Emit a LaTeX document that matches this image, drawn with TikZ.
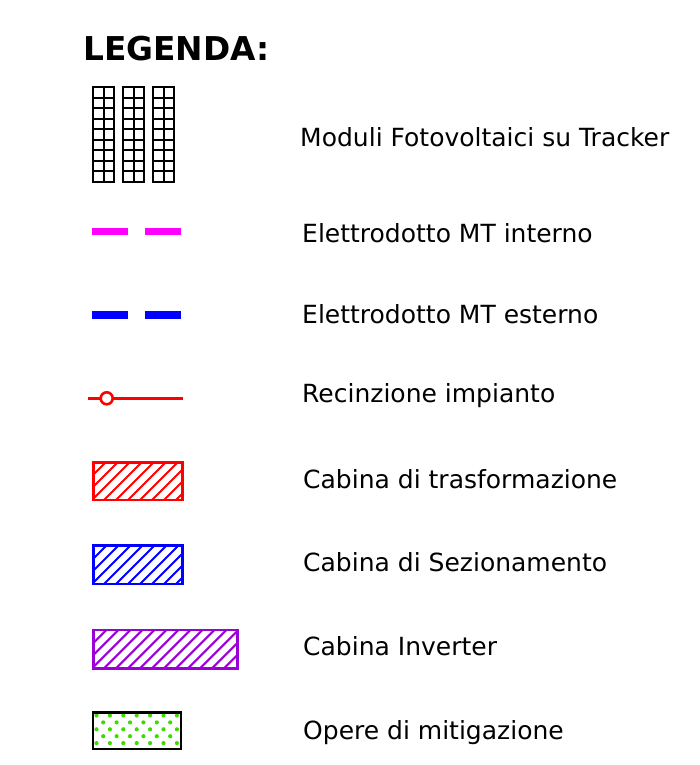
\documentclass[tikz,border=0pt]{standalone}
\usepackage{fontspec}
\setmainfont{DejaVu Sans}
\definecolor{mag}{RGB}{255,0,255}
\definecolor{blu}{RGB}{0,0,255}
\definecolor{rosso}{RGB}{255,0,0}
\definecolor{viola}{RGB}{155,0,215}
\definecolor{verde}{RGB}{60,220,0}
\tikzset{
  lbl/.style={anchor=west, inner sep=0pt, font=\fontsize{25.0}{30}\selectfont},
  cell/.style={draw=black, line width=1.8pt},
  mtline/.style={line width=7.5pt, dash pattern=on 36pt off 17pt},
  hatchbox/.style={line width=2.6pt},
  hatchline/.style={line width=2.1pt},
}
\begin{document}
\begin{tikzpicture}[x=1pt,y=-1pt]
\useasboundingbox (0,0) rectangle (700,765);
% title
\node[anchor=west, inner sep=0pt, font=\bfseries\fontsize{32.8}{39}\selectfont] (title) at (83,49) {LEGENDA:};
% modules
\foreach \cx in {93.3,123.3,153.3}{
  \foreach \r in {1,...,8}{
    \draw[cell] (\cx,87.3+\r*10.5) -- ++(21,0);
  }
  \draw[cell] (\cx+10.5,87.3) -- ++(0,94.5);
  \draw[cell] (\cx,87.3) rectangle ++(21,94.5);
}
\node[lbl] (t1) at (300,137.5) {Moduli Fotovoltaici su Tracker};
% MT interno
\coordinate (a1) at (91.7,231.3);
\coordinate (a2) at (181,231.3);
\draw[mtline, draw=mag] (a1) -- (a2);
\node[lbl] (t2) at (302,233.5) {Elettrodotto MT interno};
% MT esterno
\coordinate (b1) at (91.7,315);
\coordinate (b2) at (181,315);
\draw[mtline, draw=blu] (b1) -- (b2);
\node[lbl] (t3) at (302,314.5) {Elettrodotto MT esterno};
% recinzione
\coordinate (c1) at (88.3,398.3);
\coordinate (c2) at (183,398.3);
\draw[rosso, line width=3pt] (c1) -- (c2);
\node[circle, draw=rosso, fill=white, line width=2.6pt, minimum size=12pt, inner sep=0pt] (c0) at (106.7,398.3) {};
\node[lbl] (t4) at (302,395.5) {Recinzione impianto};
% cabina trasformazione
\begin{scope}
  \clip (93.3,462.3) rectangle (182.7,500);
  \foreach \i in {-40,-28,...,190}{
    \draw[rosso, hatchline] (\i,500) -- ++(45,-45);
  }
\end{scope}
\draw[rosso, hatchbox] (93.3,462.3) rectangle (182.7,500);
\node[lbl] (t5) at (303,479.5) {Cabina di trasformazione};
% cabina sezionamento
\begin{scope}
  \clip (93.3,545.7) rectangle (182.7,584);
  \foreach \i in {-40,-28,...,190}{
    \draw[blu, hatchline] (\i,584) -- ++(45,-45);
  }
\end{scope}
\draw[blu, hatchbox] (93.3,545.7) rectangle (182.7,584);
\node[lbl] (t6) at (303,562.5) {Cabina di Sezionamento};
% cabina inverter
\begin{scope}
  \clip (93.3,630) rectangle (237.3,668.3);
  \foreach \i in {-40,-28,...,250}{
    \draw[viola, hatchline] (\i,668.3) -- ++(45,-45);
  }
\end{scope}
\draw[viola, hatchbox] (93.3,630) rectangle (237.3,668.3);
\node[lbl] (t7) at (303,646.5) {Cabina Inverter};
% opere di mitigazione
\foreach \r in {0,1,2,3,4}{
  \pgfmathsetmacro{\yy}{715.5+\r*6.9}
  \pgfmathsetmacro{\off}{mod(\r,2)*6.7}
  \foreach \k in {0,...,6}{
    \pgfmathsetmacro{\xx}{96.5+\off+\k*13.4}
    \ifdim \xx pt<179pt
      \fill[verde] (\xx,\yy) circle (2.1);
    \fi
  }
}
\draw[black, line width=2.4pt] (92.7,712.3) rectangle (180.7,749);
\node[lbl] (t8) at (303,732.5) {Opere di mitigazione};
\end{tikzpicture}
\end{document}
